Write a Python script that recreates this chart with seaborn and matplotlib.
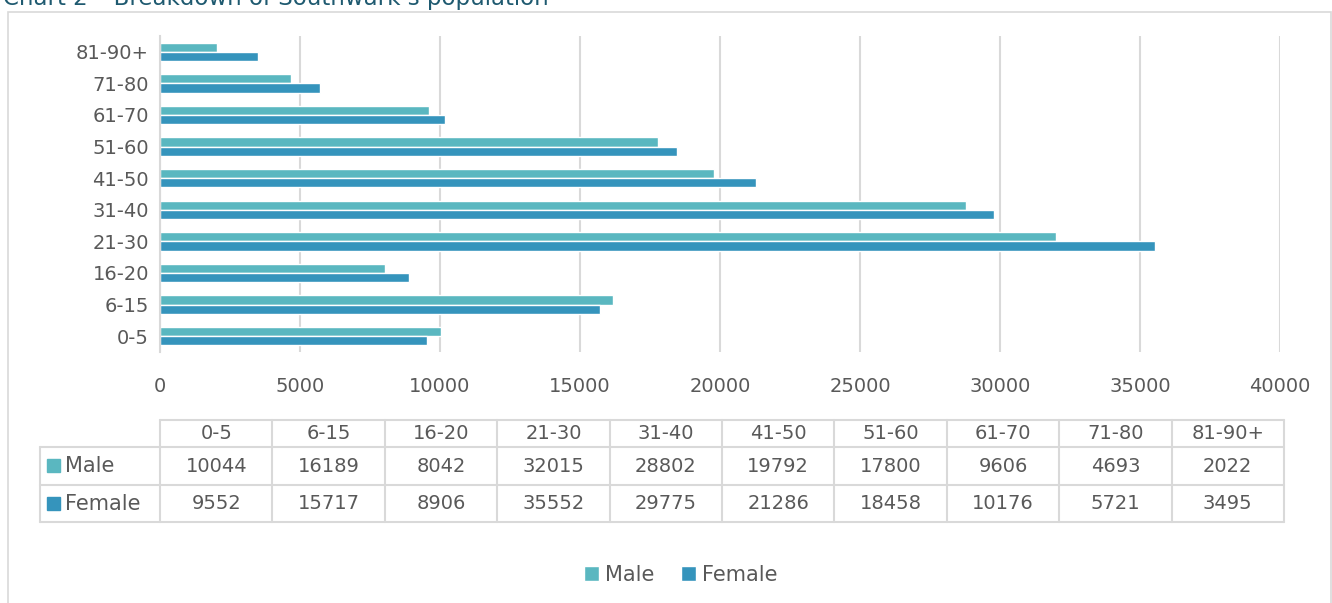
import matplotlib
matplotlib.use("Agg")
import matplotlib.pyplot as plt
import seaborn as sns
import pandas as pd
from matplotlib.patches import Patch, Rectangle
from matplotlib.lines import Line2D

# Southwark population by age band and sex
age_bands = ["0-5", "6-15", "16-20", "21-30", "31-40", "41-50", "51-60", "61-70", "71-80", "81-90+"]
male = [10044, 16189, 8042, 32015, 28802, 19792, 17800, 9606, 4693, 2022]
female = [9552, 15717, 8906, 35552, 29775, 21286, 18458, 10176, 5721, 3495]
series_names = ["Male", "Female"]
x_ticks = [0, 5000, 10000, 15000, 20000, 25000, 30000, 35000, 40000]

MALE_C = "#5AB7C0"
FEMALE_C = "#3594BC"
TEXT_C = "#595959"
GRID_C = "#D9D9D9"
TITLE_C = "#1F5A70"

sns.set_theme(style="white")
plt.rcParams["font.family"] = ["DejaVu Sans"]

W, H = 1332, 603
fig = plt.figure(figsize=(W / 100, H / 100), dpi=100)


def fx(px):
    return px / W


def fy(py):
    return 1 - py / H


df = pd.DataFrame({
    "age": age_bands * 2,
    "sex": ["Male"] * len(age_bands) + ["Female"] * len(age_bands),
    "count": male + female,
})

ax = fig.add_axes([fx(160), fy(352), fx(1280) - fx(160), fy(36) - fy(352)])
sns.barplot(
    data=df, y="age", x="count", hue="sex",
    order=age_bands[::-1], hue_order=series_names,
    palette=[MALE_C, FEMALE_C], orient="h", width=0.58,
    saturation=1, ax=ax, legend=False,
)
ax.set_xlim(0, 40000)
ax.set_xticks(x_ticks)
ax.set_xticklabels([str(t) for t in x_ticks])
ax.set_xlabel("")
ax.set_ylabel("")
ax.xaxis.grid(True, color=GRID_C, linewidth=1.5)
ax.set_axisbelow(True)
for s in ["top", "right", "bottom"]:
    ax.spines[s].set_visible(False)
ax.spines["left"].set_color(GRID_C)
ax.spines["left"].set_linewidth(1.5)
ax.tick_params(axis="both", length=0, labelsize=14, labelcolor=TEXT_C)
ax.tick_params(axis="x", pad=18)
ax.tick_params(axis="y", pad=8)

# outer chart frame
fig.add_artist(Rectangle((fx(8), fy(640)), fx(1331) - fx(8), fy(12) - fy(640),
                         transform=fig.transFigure, fill=False,
                         edgecolor=GRID_C, linewidth=1.2))

# title (partly above the frame)
fig.text(fx(3), fy(5), "Chart 2 \u2013 Breakdown of Southwark\u2019s population",
         fontsize=16.5, color=TITLE_C, va="baseline", ha="left")

# data table under the chart
col_left = 160
col_w = (1284 - 160) / len(age_bands)
row_lab_left = 40
y_top, y_h, y_m, y_f = 420, 447, 485, 522


def hline(y, x0, x1):
    fig.add_artist(Line2D([fx(x0), fx(x1)], [fy(y), fy(y)], transform=fig.transFigure,
                          color=GRID_C, linewidth=1.5))


def vline(x, y0, y1):
    fig.add_artist(Line2D([fx(x), fx(x)], [fy(y0), fy(y1)], transform=fig.transFigure,
                          color=GRID_C, linewidth=1.5))


hline(y_top, col_left, 1284)
for y in (y_h, y_m, y_f):
    hline(y, row_lab_left, 1284)
vline(row_lab_left, y_h, y_f)
for i in range(len(age_bands) + 1):
    vline(col_left + i * col_w, y_top, y_f)

for i, lab in enumerate(age_bands):
    cx = col_left + (i + 0.5) * col_w
    fig.text(fx(cx), fy((y_top + y_h) / 2), lab, ha="center", va="center",
             fontsize=14, color=TEXT_C)
    fig.text(fx(cx), fy((y_h + y_m) / 2), str(male[i]), ha="center", va="center",
             fontsize=14, color=TEXT_C)
    fig.text(fx(cx), fy((y_m + y_f) / 2), str(female[i]), ha="center", va="center",
             fontsize=14, color=TEXT_C)

for (y0, y1), name, c in [((y_h, y_m), series_names[0], MALE_C),
                          ((y_m, y_f), series_names[1], FEMALE_C)]:
    cy = (y0 + y1) / 2
    fig.add_artist(Rectangle((fx(47), fy(cy + 6)), fx(13), fy(0) - fy(13),
                             transform=fig.transFigure, color=c))
    fig.text(fx(65), fy(cy), name, ha="left", va="center", fontsize=15, color=TEXT_C)

# legend
handles = [Patch(facecolor=MALE_C, label=series_names[0]),
           Patch(facecolor=FEMALE_C, label=series_names[1])]
fig.legend(handles=handles, loc="center", bbox_to_anchor=(fx(681), fy(575)),
           ncol=2, frameon=False, fontsize=15, labelcolor=TEXT_C,
           handlelength=0.7, handleheight=0.7, handletextpad=0.3, columnspacing=1.3)

fig.savefig("out.png", dpi=100)
